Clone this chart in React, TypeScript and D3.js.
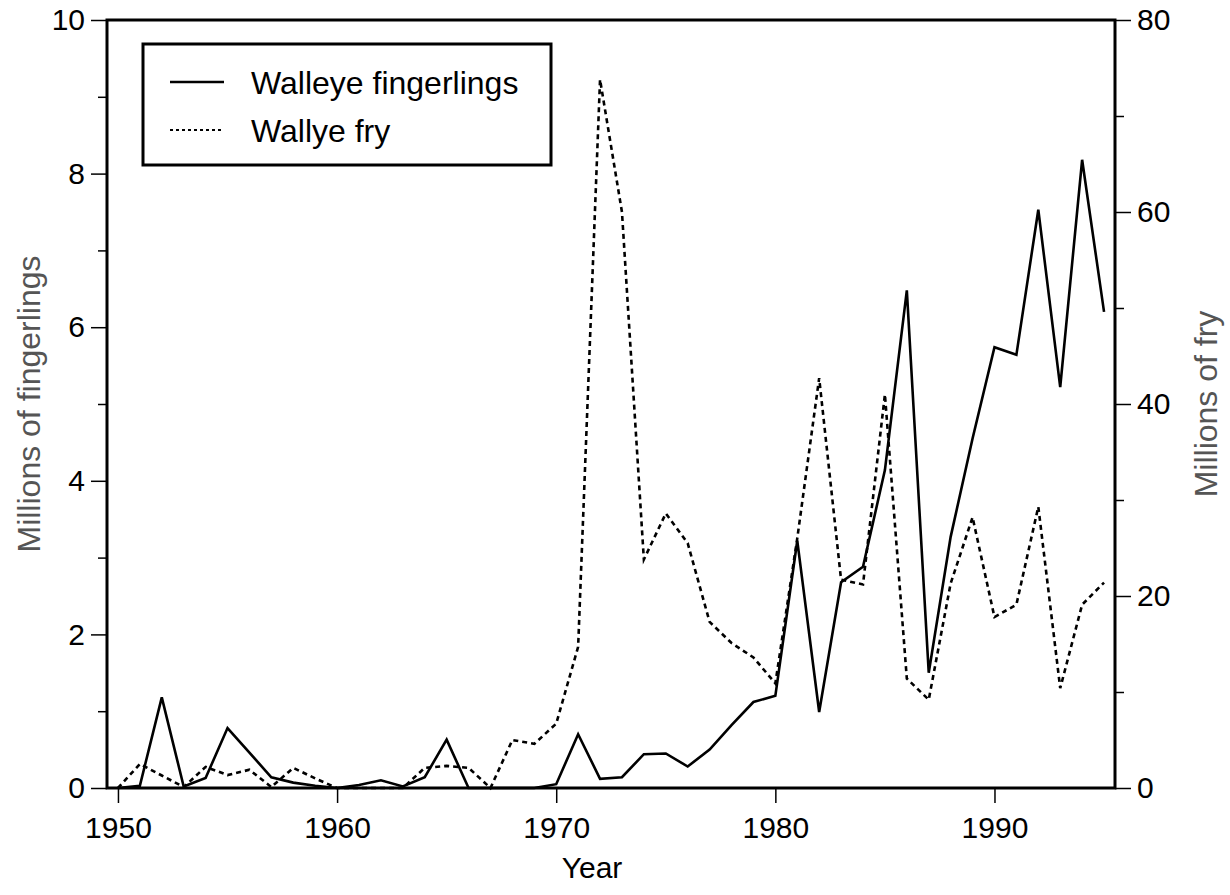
import React, { useEffect, useRef } from 'react'
import * as d3 from 'd3'

const years = [
  1950, 1951, 1952, 1953, 1954, 1955, 1956, 1957, 1958, 1959,
  1960, 1961, 1962, 1963, 1964, 1965, 1966, 1967, 1968, 1969,
  1970, 1971, 1972, 1973, 1974, 1975, 1976, 1977, 1978, 1979,
  1980, 1981, 1982, 1983, 1984, 1985, 1986, 1987, 1988, 1989,
  1990, 1991, 1992, 1993, 1994, 1995,
]

// millions of fingerlings (left axis)
const fingerlings = [
  0, 0.03, 1.18, 0.02, 0.13, 0.78, 0.46, 0.14, 0.07, 0.03,
  0, 0.04, 0.1, 0.02, 0.14, 0.63, 0, 0, 0, 0,
  0.05, 0.7, 0.12, 0.14, 0.44, 0.45, 0.28, 0.5, 0.82, 1.12,
  1.2, 3.22, 0.99, 2.68, 2.88, 4.14, 6.48, 1.5, 3.27, 4.55,
  5.74, 5.64, 7.53, 5.22, 8.18, 6.2,
]

// millions of fry (right axis)
const fry = [
  0, 2.5, 1.3, 0.1, 2.2, 1.35, 1.9, 0.1, 2.1, 1.0,
  0, 0, 0, 0, 2.1, 2.3, 2.1, 0, 5.0, 4.6,
  6.7, 14.7, 73.8, 60, 23.8, 28.6, 25.5, 17.3, 15.1, 13.6,
  10.9, 26, 42.7, 21.7, 21.2, 41, 11.4, 9.2, 21.3, 28.2,
  17.8, 19.1, 29.3, 10.4, 19.1, 21.4,
]

const xTicks = [1950, 1960, 1970, 1980, 1990]
const leftTicks = [0, 2, 4, 6, 8, 10]
const leftMinor = [1, 3, 5, 7, 9]
const rightTicks = [0, 20, 40, 60, 80]
const rightMinor = [10, 30, 50, 70]

const legendLabels = ['Walleye fingerlings', 'Wallye fry']

const W = 1230
const H = 895
const FONT = 'Liberation Sans, Arial, sans-serif'

export default function App() {
  const ref = useRef<SVGSVGElement>(null)

  useEffect(() => {
    const svg = d3.select(ref.current)
    svg.selectAll('*').remove()

    const margin = { top: 20, right: 115, bottom: 107, left: 107 }
    const x = d3.scaleLinear().domain([1949.5, 1995.5]).range([margin.left, W - margin.right])
    const yL = d3.scaleLinear().domain([0, 10]).range([H - margin.bottom, margin.top])
    const yR = d3.scaleLinear().domain([0, 80]).range([H - margin.bottom, margin.top])
    const bottom = H - margin.bottom

    const styleAxis = (g: any) => {
      g.select('.domain').remove()
      g.selectAll('line').attr('stroke', '#000').attr('stroke-width', 1.5)
      g.selectAll('text')
        .attr('fill', '#000')
        .style('font-family', FONT)
        .style('font-size', '30px')
    }

    // minor ticks first
    svg.append('g')
      .attr('transform', `translate(${margin.left},0)`)
      .call(d3.axisLeft(yL).tickValues(leftMinor).tickSize(9).tickFormat(() => ''))
      .call(styleAxis)
    svg.append('g')
      .attr('transform', `translate(${W - margin.right},0)`)
      .call(d3.axisRight(yR).tickValues(rightMinor).tickSize(9).tickFormat(() => ''))
      .call(styleAxis)

    svg.append('g')
      .attr('transform', `translate(${margin.left},0)`)
      .call(d3.axisLeft(yL).tickValues(leftTicks).tickSize(16).tickPadding(6).tickFormat(d3.format('d')))
      .call(styleAxis)
    svg.append('g')
      .attr('transform', `translate(${W - margin.right},0)`)
      .call(d3.axisRight(yR).tickValues(rightTicks).tickSize(16).tickPadding(6).tickFormat(d3.format('d')))
      .call(styleAxis)
    svg.append('g')
      .attr('transform', `translate(0,${bottom})`)
      .call(d3.axisBottom(x).tickValues(xTicks).tickSize(15).tickPadding(14).tickFormat(d3.format('d')))
      .call(styleAxis)

    // data lines
    const lineL = d3.line<number>().x((d, i) => x(years[i])).y((d) => yL(d))
    const lineR = d3.line<number>().x((d, i) => x(years[i])).y((d) => yR(d))

    svg.append('path')
      .attr('d', lineR(fry))
      .attr('fill', 'none')
      .attr('stroke', '#000')
      .attr('stroke-width', 2.6)
      .attr('stroke-dasharray', '5,4')

    svg.append('path')
      .attr('d', lineL(fingerlings))
      .attr('fill', 'none')
      .attr('stroke', '#000')
      .attr('stroke-width', 2.6)
      .attr('stroke-linejoin', 'miter')

    // frame
    svg.append('rect')
      .attr('x', margin.left)
      .attr('y', margin.top)
      .attr('width', W - margin.right - margin.left)
      .attr('height', bottom - margin.top)
      .attr('fill', 'none')
      .attr('stroke', '#000')
      .attr('stroke-width', 3)

    // legend
    const lg = svg.append('g')
    lg.append('rect')
      .attr('x', 143).attr('y', 44)
      .attr('width', 408).attr('height', 121)
      .attr('fill', '#fff')
      .attr('stroke', '#000')
      .attr('stroke-width', 3)
    legendLabels.forEach((label, i) => {
      const cy = 82 + i * 48
      lg.append('line')
        .attr('x1', 170).attr('x2', 224)
        .attr('y1', cy).attr('y2', cy)
        .attr('stroke', '#000')
        .attr('stroke-width', i === 0 ? 2.5 : 2)
        .attr('stroke-dasharray', i === 0 ? null : '3,3')
      lg.append('text')
        .attr('x', 251).attr('y', cy + 12)
        .style('font-family', FONT)
        .style('font-size', '32px')
        .text(label)
    })

    // axis titles
    svg.append('text')
      .attr('x', 592)
      .attr('y', 878)
      .attr('text-anchor', 'middle')
      .style('font-family', FONT)
      .style('font-size', '30px')
      .text('Year')

    svg.append('text')
      .attr('transform', `translate(40,404) rotate(-90)`)
      .attr('text-anchor', 'middle')
      .attr('fill', '#555')
      .style('font-family', FONT)
      .style('font-size', '32px')
      .text('Millions of fingerlings')

    svg.append('text')
      .attr('transform', `translate(1217,404) rotate(-90)`)
      .attr('text-anchor', 'middle')
      .attr('fill', '#555')
      .style('font-family', FONT)
      .style('font-size', '32px')
      .text('Millions of fry')
  }, [])

  return (
    <svg
      ref={ref}
      width={W}
      height={H}
      style={{ position: 'absolute', left: 0, top: 0, background: '#fff' }}
    />
  )
}
